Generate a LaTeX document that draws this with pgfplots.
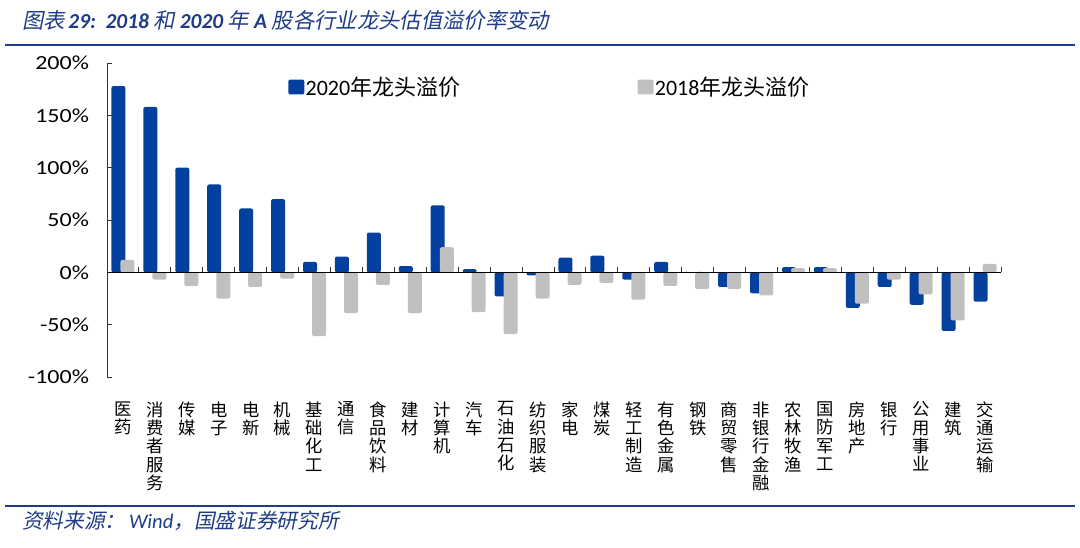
\documentclass[border=0pt]{standalone}
\usepackage{pgfplots}
\pgfplotsset{compat=1.18}
\usepackage{fontspec}
\setmainfont{Carlito}
\newfontfamily\tickfont[FakeStretch=1.2]{Carlito}
\newfontfamily\cjk{Noto Sans CJK SC}
\newfontfamily\cjkit[FakeSlant=0.2]{Noto Sans CJK SC}
\definecolor{barblue}{RGB}{4,64,160}
\definecolor{bargray}{RGB}{192,192,192}
\definecolor{hdblue}{RGB}{30,60,135}
\begin{document}
\begin{tikzpicture}[x=0.75pt,y=-0.75pt]
\path[use as bounding box] (0,0) rectangle (1080,547);
\node[anchor=west, text=hdblue, inner sep=0] at (22,20) {\fontsize{16}{18}\selectfont{\cjkit 图表}\,{\bfseries\itshape 29:}\ \ {\bfseries\itshape 2018}\ {\cjkit 和}\ {\bfseries\itshape 2020}\ {\cjkit 年}\ {\bfseries\itshape A}\ {\cjkit 股各行业龙头估值溢价率变动}};
\draw[hdblue, line width=2.2pt] (5,45) -- (1075,45);
\draw[hdblue, line width=2.2pt] (5,506) -- (1075,506);
\node[anchor=west, text=hdblue, inner sep=0] at (22,521) {\fontsize{15.5}{17}\selectfont{\cjkit 资料来源：}\,{\itshape Wind}{\cjkit ，国盛证券研究所}};
\begin{axis}[
 at={(80.25pt,-282.75pt)}, anchor=south west,
 scale only axis, width=670.5pt, height=235.5pt,
 xmin=0.5, xmax=28.5, ymin=-100, ymax=200,
 ytick={-100,-50,0,50,100,150,200},
 yticklabel={\pgfmathprintnumber{\tick}\%},
 /pgf/number format/assume math mode=true,
 yticklabel style={font=\tickfont\fontsize{15}{15}\selectfont, xshift=-10pt},
 axis x line*=bottom, axis y line*=left,
 x axis line style={draw=none},
 y axis line style={draw=black!80, line width=0.7pt},
 tick align=inside, major tick length=4pt,
 major y tick style={draw=black!80, line width=0.7pt},
 xtick={1,...,28},
 xticklabels={{医\\药},{消\\费\\者\\服\\务},{传\\媒},{电\\子},{电\\新},{机\\械},{基\\础\\化\\工},{通\\信},{食\\品\\饮\\料},{建\\材},{计\\算\\机},{汽\\车},{石\\油\\石\\化},{纺\\织\\服\\装},{家\\电},{煤\\炭},{轻\\工\\制\\造},{有\\色\\金\\属},{钢\\铁},{商\\贸\\零\\售},{非\\银\\行\\金\\融},{农\\林\\牧\\渔},{国\\防\\军\\工},{房\\地\\产},{银\\行},{公\\用\\事\\业},{建\\筑},{交\\通\\运\\输}},
 major x tick style={draw=none},
 xticklabel style={align=center, font=\cjk\fontsize{13}{13.7}\selectfont, yshift=-11pt, anchor=north},
 ybar, bar width=10.5pt,
 clip=false,
 legend columns=2,
 legend style={at={(rel axis cs:0.2025,0.9236)}, anchor=west, draw=none, fill=none, inner sep=0pt,
   font=\fontsize{16.5}{17}\selectfont, nodes={inner sep=1pt},
   /tikz/every even column/.append style={column sep=132pt}},
 legend image code/.code={\fill[#1] (0pt,-5.6pt) rectangle (12pt,5.6pt);},
]
\addplot[fill=barblue, draw=none, bar shift=-3.4pt, rounded corners=1.5pt] coordinates {
(1,178) (2,158) (3,100) (4,84) (5,61) (6,70) (7,10) (8,15) (9,38) (10,6)
(11,64) (12,3) (13,-23) (14,-3) (15,14) (16,16) (17,-7) (18,10) (19,0) (20,-14)
(21,-20) (22,5) (23,5) (24,-34) (25,-14) (26,-31) (27,-56) (28,-28)};
\addlegendentry{2020{\cjk 年龙头溢价}}
\addplot[fill=bargray, draw=none, bar shift=3.4pt, rounded corners=1.5pt] coordinates {
(1,12) (2,-7) (3,-13) (4,-25) (5,-14) (6,-6) (7,-61) (8,-39) (9,-12) (10,-39)
(11,24) (12,-38) (13,-59) (14,-25) (15,-12) (16,-10) (17,-26) (18,-13) (19,-16) (20,-16)
(21,-22) (22,4) (23,4) (24,-30) (25,-7) (26,-21) (27,-46) (28,8)};
\addlegendentry{2018{\cjk 年龙头溢价}}
\draw[black, line width=0.9pt] (axis cs:0.5,0) -- (axis cs:28.5,0);
\pgfplotsinvokeforeach{0.5,1.5,...,28.5}{\draw[black!80, line width=0.7pt] (axis cs:#1,0) -- ++(0pt,4pt);}
\end{axis}
\end{tikzpicture}
\end{document}
